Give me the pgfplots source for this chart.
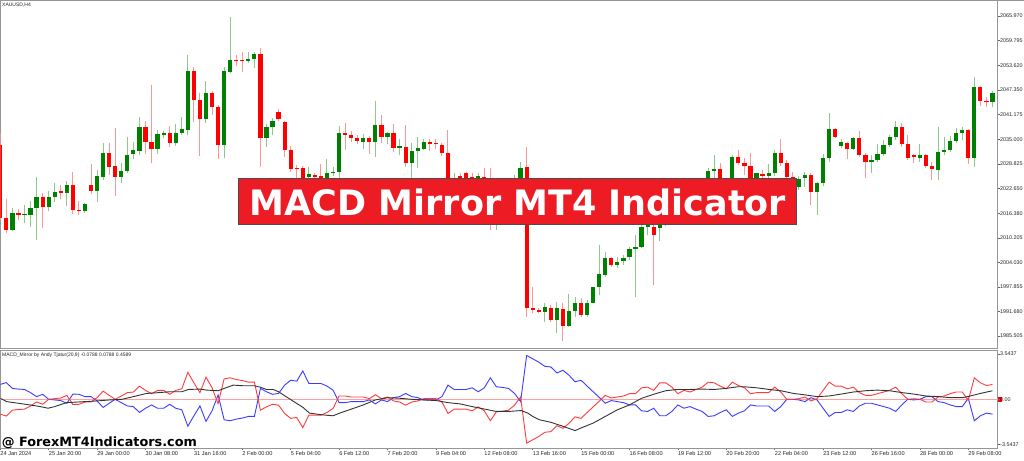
\documentclass[border=0pt]{standalone}
\usepackage{pgfplots}
\pgfplotsset{compat=1.18}
\usepackage{pgfplotstable}
\usepackage{fontspec}
\setmainfont{Liberation Sans}
\newfontfamily\titlefont{DejaVu Sans}
\definecolor{bull}{RGB}{0,128,0}
\definecolor{bear}{RGB}{255,0,0}
\definecolor{bullwick}{RGB}{140,200,140}
\definecolor{bearwick}{RGB}{255,150,150}
\definecolor{framegray}{RGB}{150,150,150}
\definecolor{macdblue}{RGB}{60,60,255}
\definecolor{macdred}{RGB}{255,60,60}
\definecolor{zeroline}{RGB}{255,160,160}
\definecolor{titlered}{RGB}{237,28,36}

\pgfplotstableread{
i O H L C
0 2033.5 2036.6 2014.7 2015.2
1 2015.3 2019.9 2011.4 2012.2
2 2012.2 2017.6 2011.8 2016.4
3 2016.4 2017.4 2014.7 2016.0
4 2015.9 2018.5 2013.9 2016.1
5 2016.0 2019.5 2012.9 2017.6
6 2017.6 2025.4 2009.7 2020.4
7 2020.4 2021.6 2012.6 2017.9
8 2017.9 2022.1 2017.0 2020.4
9 2020.5 2024.1 2019.3 2021.8
10 2021.8 2023.5 2019.9 2021.6
11 2021.4 2024.6 2018.2 2023.5
12 2023.5 2026.8 2016.2 2017.2
13 2017.2 2019.5 2016.0 2017.0
14 2017.0 2019.0 2016.5 2018.6
15 2023.5 2028.8 2021.2 2022.1
16 2022.1 2027.3 2019.3 2025.7
17 2025.6 2034.0 2024.7 2031.5
18 2031.5 2034.0 2026.0 2028.1
19 2028.3 2037.7 2020.7 2025.6
20 2025.6 2028.9 2024.1 2027.0
21 2027.0 2035.5 2026.4 2031.0
22 2031.2 2034.4 2030.0 2032.3
23 2032.1 2040.7 2031.0 2038.0
24 2038.0 2039.6 2031.3 2034.4
25 2034.4 2048.6 2029.1 2032.5
26 2032.5 2037.3 2031.3 2036.2
27 2036.1 2037.1 2035.2 2036.5
28 2036.5 2038.3 2033.0 2034.1
29 2034.0 2038.8 2033.3 2036.6
30 2036.6 2040.5 2036.1 2037.5
31 2037.3 2056.2 2036.1 2052.2
32 2052.2 2053.2 2039.4 2044.9
33 2044.9 2046.5 2030.8 2040.0
34 2040.0 2049.7 2039.2 2046.5
35 2046.5 2047.2 2041.1 2043.0
36 2043.0 2043.6 2030.0 2033.5
37 2033.5 2053.2 2030.2 2052.1
38 2052.0 2065.8 2051.6 2054.9
39 2054.9 2056.2 2053.4 2054.7
40 2054.9 2057.0 2052.0 2054.7
41 2054.7 2057.0 2054.1 2055.2
42 2055.1 2057.0 2052.8 2056.3
43 2056.3 2057.9 2027.9 2035.2
44 2035.2 2038.8 2033.1 2038.1
45 2038.1 2040.3 2036.1 2039.7
46 2041.9 2042.5 2039.7 2040.0
47 2039.4 2039.7 2030.5 2032.3
48 2032.3 2033.4 2026.8 2027.4
49 2027.7 2028.5 2024.2 2027.4
50 2027.7 2028.3 2023.5 2024.7
51 2025.4 2028.1 2023.5 2026.3
52 2026.0 2026.6 2024.2 2025.4
53 2025.7 2028.7 2024.2 2025.3
54 2025.2 2030.0 2024.2 2026.4
55 2026.4 2028.1 2025.7 2026.8
56 2026.7 2038.3 2025.2 2036.5
57 2036.5 2039.0 2032.3 2036.1
58 2036.1 2037.1 2034.4 2035.4
59 2035.4 2036.1 2033.9 2034.6
60 2034.4 2036.3 2032.5 2035.2
61 2035.2 2035.8 2031.3 2034.2
62 2034.2 2044.7 2030.6 2038.5
63 2038.5 2041.1 2034.1 2035.6
64 2035.6 2036.9 2033.8 2036.5
65 2036.5 2038.8 2031.9 2032.9
66 2032.9 2035.0 2031.0 2033.1
67 2033.0 2038.6 2028.1 2029.1
68 2029.1 2034.1 2024.7 2032.1
69 2032.0 2035.5 2027.7 2032.7
70 2032.6 2035.0 2032.3 2034.4
71 2034.4 2035.0 2032.1 2033.7
72 2034.0 2035.0 2032.5 2033.7
73 2033.5 2034.1 2030.8 2031.6
74 2031.6 2037.3 2024.2 2025.3
75 2023.2 2026.6 2022.2 2025.0
76 2025.7 2026.6 2023.5 2024.5
77 2026.4 2026.8 2023.5 2025.2
78 2025.6 2026.6 2023.7 2025.2
79 2025.2 2026.6 2024.0 2025.7
80 2025.6 2027.7 2023.2 2025.2
81 2025.3 2027.7 2012.2 2016.0
82 2014.2 2019.7 2012.2 2018.5
83 2018.5 2020.2 2014.7 2016.7
84 2016.7 2021.0 2015.7 2019.7
85 2019.7 2026.0 2018.5 2022.2
86 2022.2 2029.3 2021.0 2027.8
87 2027.9 2033.1 1990.4 1992.5
88 1992.5 1997.9 1991.2 1992.1
89 1992.1 1992.6 1991.2 1991.5
90 1991.6 1993.7 1989.1 1992.9
91 1992.6 1993.3 1989.1 1989.5
92 1989.5 1994.2 1986.2 1992.5
93 1992.2 1993.7 1984.3 1988.0
94 1988.0 1996.1 1987.9 1991.8
95 1991.8 1995.4 1990.4 1993.7
96 1993.7 1995.0 1990.4 1990.7
97 1990.7 1994.6 1990.4 1993.9
98 1993.9 1997.9 1993.7 1997.8
99 1997.8 2008.4 1995.8 2001.0
100 2000.9 2006.7 2000.4 2005.1
101 2005.1 2005.3 2002.9 2003.4
102 2003.4 2005.3 2002.5 2004.2
103 2004.4 2005.9 2003.4 2005.2
104 2005.3 2008.0 2004.6 2007.4
105 2007.4 2010.9 1995.4 2008.0
106 2008.0 2013.4 2007.6 2012.9
107 2012.9 2014.7 2010.9 2013.4
108 2013.0 2014.2 1998.3 2010.9
109 2012.6 2015.2 2009.5 2013.4
110 2013.7 2017.7 2013.2 2016.7
111 2016.7 2018.5 2014.2 2015.4
112 2015.4 2019.7 2014.7 2018.7
113 2018.7 2021.7 2017.7 2020.5
114 2020.5 2022.2 2018.0 2019.0
115 2019.0 2023.2 2018.2 2022.2
116 2022.2 2025.2 2021.2 2024.2
117 2024.2 2027.7 2023.2 2027.1
118 2027.0 2031.0 2024.7 2027.4
119 2027.4 2028.9 2021.7 2022.7
120 2022.7 2023.7 2019.7 2021.0
121 2021.0 2031.0 2020.2 2030.6
122 2030.6 2032.3 2028.5 2028.9
123 2028.9 2030.2 2026.0 2028.3
124 2028.3 2031.6 2022.2 2024.7
125 2025.2 2026.6 2024.2 2026.4
126 2026.3 2027.3 2024.7 2025.8
127 2025.8 2028.8 2024.7 2026.6
128 2026.4 2032.3 2025.7 2031.5
129 2031.5 2035.0 2028.3 2028.9
130 2028.9 2029.8 2024.7 2025.6
131 2025.6 2026.8 2022.2 2023.1
132 2023.1 2025.7 2022.2 2024.9
133 2025.2 2026.8 2023.1 2026.0
134 2026.0 2026.4 2018.5 2021.8
135 2021.8 2024.3 2016.0 2023.9
136 2023.9 2031.3 2023.2 2030.2
137 2030.2 2041.5 2029.3 2037.5
138 2037.5 2037.7 2035.2 2035.6
139 2033.4 2035.0 2032.7 2034.4
140 2034.1 2034.4 2030.0 2032.5
141 2032.5 2035.5 2032.3 2035.2
142 2035.2 2037.1 2030.6 2031.0
143 2031.0 2031.5 2025.2 2029.2
144 2029.2 2031.0 2026.4 2029.8
145 2029.8 2033.8 2029.3 2031.3
146 2031.3 2034.8 2030.8 2033.5
147 2033.5 2036.1 2033.1 2035.5
148 2035.5 2039.7 2034.8 2038.1
149 2038.1 2039.2 2033.1 2033.8
150 2033.8 2036.1 2029.8 2030.4
151 2031.0 2031.3 2028.9 2030.6
152 2030.4 2033.8 2029.3 2031.0
153 2031.0 2031.3 2027.8 2028.3
154 2028.3 2029.3 2024.7 2027.4
155 2027.3 2038.1 2024.7 2031.9
156 2031.9 2035.6 2031.0 2032.3
157 2032.3 2035.9 2031.9 2034.6
158 2034.6 2037.7 2034.0 2036.6
159 2036.6 2038.1 2034.8 2037.3
160 2037.3 2037.5 2028.8 2030.4
161 2030.4 2050.7 2028.1 2048.2
162 2048.2 2048.4 2043.3 2044.7
163 2044.7 2045.5 2043.0 2044.3
164 2044.3 2047.2 2043.0 2046.7
}\ohlc

\pgfplotstableread{
i b r
0 1.16 -1.16
1 1.31 -1.31
2 0.85 -0.85
3 0.80 -0.80
4 0.77 -0.77
5 0.52 -0.52
6 0.21 -0.21
7 0.39 -0.39
8 0.00 0.00
9 -0.05 0.05
10 -0.10 0.10
11 -0.31 0.31
12 0.41 -0.41
13 0.39 -0.39
14 0.21 -0.21
15 0.21 -0.21
16 -0.13 0.13
17 -0.64 0.64
18 -0.31 0.31
19 0.00 0.00
20 -0.26 0.26
21 -0.52 0.52
22 -0.57 0.57
23 -1.03 1.03
24 -0.70 0.70
25 -0.44 0.44
26 -0.70 0.70
27 -0.70 0.70
28 -0.39 0.39
29 -0.70 0.70
30 -0.82 0.82
31 -2.11 2.11
32 -1.29 1.29
33 -0.52 0.52
34 -1.73 1.73
35 -0.90 0.90
36 0.34 -0.34
37 -1.60 1.60
38 -1.68 1.68
39 -1.55 1.55
40 -1.47 1.47
41 -1.34 1.34
42 -1.34 1.34
43 0.85 -0.85
44 0.59 -0.59
45 0.39 -0.39
46 0.46 -0.46
47 1.11 -1.11
48 1.49 -1.49
49 1.42 -1.42
50 2.22 -2.22
51 1.24 -1.24
52 1.24 -1.24
53 1.24 -1.24
54 1.03 -1.03
55 0.72 -0.72
56 -0.26 0.26
57 -0.26 0.26
58 -0.18 0.18
59 -0.18 0.18
60 -0.18 0.18
61 -0.05 0.05
62 -0.36 0.36
63 -0.05 0.05
64 -0.18 0.18
65 0.13 -0.13
66 0.21 -0.21
67 0.46 -0.46
68 0.21 -0.21
69 0.13 -0.13
70 -0.05 0.05
71 -0.05 0.05
72 -0.05 0.05
73 0.21 -0.21
74 1.11 -1.11
75 0.77 -0.77
76 0.77 -0.77
77 0.77 -0.77
78 0.90 -0.90
79 0.59 -0.59
80 0.90 -0.90
81 1.68 -1.68
82 0.98 -0.98
83 0.93 -0.93
84 0.85 -0.85
85 0.46 -0.46
86 -0.18 0.18
87 3.43 -3.43
88 3.17 -3.17
89 2.91 -2.91
90 2.58 -2.58
91 2.53 -2.53
92 2.06 -2.06
93 2.27 -2.27
94 1.88 -1.88
95 1.37 -1.37
96 1.49 -1.49
97 1.03 -1.03
98 0.59 -0.59
99 0.15 -0.15
100 -0.31 0.31
101 -0.10 0.10
102 -0.18 0.18
103 -0.26 0.26
104 -0.44 0.44
105 -0.44 0.44
106 -0.90 0.90
107 -0.95 0.95
108 -0.70 0.70
109 -1.29 1.29
110 -1.29 1.29
111 -0.95 0.95
112 -0.44 0.44
113 -0.70 0.70
114 -0.57 0.57
115 -0.77 0.77
116 -0.95 0.95
117 -1.34 1.34
118 -1.29 1.29
119 -1.03 1.03
120 -0.82 0.82
121 -1.34 1.34
122 -1.08 1.08
123 -0.90 0.90
124 -0.44 0.44
125 -0.52 0.52
126 -0.52 0.52
127 -0.52 0.52
128 -0.95 0.95
129 -0.57 0.57
130 0.00 0.00
131 0.00 0.00
132 -0.05 0.05
133 -0.18 0.18
134 0.13 -0.13
135 -0.05 0.05
136 -0.70 0.70
137 -1.34 1.34
138 -1.03 1.03
139 -1.03 1.03
140 -0.82 0.82
141 -0.95 0.95
142 -0.52 0.52
143 -0.31 0.31
144 -0.31 0.31
145 -0.44 0.44
146 -0.57 0.57
147 -0.70 0.70
148 -0.95 0.95
149 -0.44 0.44
150 0.00 0.00
151 -0.05 0.05
152 0.00 0.00
153 0.21 -0.21
154 0.21 -0.21
155 -0.18 0.18
156 -0.26 0.26
157 -0.44 0.44
158 -0.57 0.57
159 -0.57 0.57
160 0.08 -0.08
161 -1.68 1.68
162 -1.29 1.29
163 -1.08 1.08
164 -1.16 1.16
}\macd

\pgfplotstableread{
i k
0 0.08
1.05 -0.18
3.0 -0.31
4.9 -0.44
6.6 -0.57
7.9 -0.70
9.0 -0.57
10.1 -0.39
11.0 -0.26
12.1 -0.23
14.0 -0.18
15.9 -0.13
18.1 -0.05
20.1 0.0
22.0 0.21
24.2 0.46
26.1 0.52
28.0 0.59
30.0 0.59
31.1 0.77
33.0 0.80
34.1 0.72
36.0 0.67
37.0 0.85
38.5 1.11
40.2 1.06
42.0 1.06
43.1 0.93
44.0 0.77
45.1 0.77
46.0 0.59
47.0 0.28
48.1 -0.05
49.1 -0.36
50.0 -0.62
51.1 -1.08
53.1 -1.21
55.0 -1.29
56.1 -1.08
58.0 -0.77
60.0 -0.44
62.0 -0.05
64.1 0.13
66.0 0.08
68.0 0.0
70.1 -0.05
72.1 -0.10
74.0 -0.26
76.0 -0.36
78.0 -0.57
80.1 -0.77
82.0 -0.95
84.0 -0.95
86.1 -0.88
87.2 -1.08
88.0 -1.34
89.1 -1.60
91.0 -1.80
93.0 -2.11
95.0 -2.45
96.0 -2.24
98.0 -1.86
100.0 -1.34
102.0 -0.82
104.0 -0.44
106.0 0.08
108.1 0.41
110.0 0.67
111.9 0.77
114.0 0.77
116.0 0.80
118.0 0.77
119.9 0.85
121.9 0.98
123.0 0.98
125.0 0.90
127.1 0.77
129.0 0.67
131.1 0.46
133.1 0.34
135.0 0.21
137.0 0.26
139.0 0.41
141.0 0.57
143.0 0.67
145.0 0.72
147.0 0.67
149.1 0.52
151.0 0.41
153.0 0.26
155.0 0.21
157.0 0.13
159.0 0.13
159.9 0.21
162.0 0.46
164.0 0.67
}\sig

\begin{document}
\begin{tikzpicture}
\fill[white] (0,0) rectangle (1024pt,460pt);
\draw[framegray, line width=0.8pt] (0,459.6pt) -- (1024pt,459.6pt);
% red marker behind 0.00 label
\fill[red] (997.8pt,57.8pt) rectangle (1001.5pt,62.8pt);

% ===== price panel =====
\begin{axis}[
  at={(0.3pt,111pt)}, anchor=south west,
  width=997.2pt, height=348pt, scale only axis,
  xmin=0, xmax=164.83, ymin=1982.26, ymax=2069.75,
  axis line style={draw=framegray, line width=1pt},
  xtick=\empty,
  ytick={1985.505,1991.680,1997.855,2004.030,2010.205,2016.380,2022.650,2028.825,2035.000,2041.175,2047.350,2053.620,2059.795,2065.970},
  yticklabels={1985.505,1991.680,1997.855,2004.030,2010.205,2016.380,2022.650,2028.825,2035.000,2041.175,2047.350,2053.620,2059.795,2065.970},
  ytick pos=right, yticklabel pos=right,
  tick align=outside, major tick length=2pt,
  tick style={draw=black!60, line width=0.5pt},
  yticklabel style={font=\fontsize{5.4}{6}\selectfont, anchor=west, inner sep=0pt, xshift=0.5pt, text=black!85},
]
\addplot[draw=none, mark=none, forget plot,
  restrict expr to domain={\thisrow{C}-\thisrow{O}}{0:1000},
  error bars/.cd, y dir=plus, y explicit, error mark=none,
  error bar style={draw=bullwick, line width=1pt}]
  table[x=i, y=L, y error expr=\thisrow{H}-\thisrow{L}] {\ohlc};
\addplot[draw=none, mark=none, forget plot,
  restrict expr to domain={\thisrow{C}-\thisrow{O}}{-1000:-0.001},
  error bars/.cd, y dir=plus, y explicit, error mark=none,
  error bar style={draw=bearwick, line width=1pt}]
  table[x=i, y=L, y error expr=\thisrow{H}-\thisrow{L}] {\ohlc};
\addplot[draw=none, mark=none, forget plot,
  restrict expr to domain={\thisrow{C}-\thisrow{O}}{0:1000},
  error bars/.cd, y dir=plus, y explicit, error mark=none,
  error bar style={draw=bull, line width=4.2pt}]
  table[x=i, y=O, y error expr={max(\thisrow{C}-\thisrow{O},0.3)}] {\ohlc};
\addplot[draw=none, mark=none, forget plot,
  restrict expr to domain={\thisrow{C}-\thisrow{O}}{-1000:-0.001},
  error bars/.cd, y dir=plus, y explicit, error mark=none,
  error bar style={draw=bear, line width=4.2pt}]
  table[x=i, y=C, y error expr={max(\thisrow{O}-\thisrow{C},0.3)}] {\ohlc};
\end{axis}

% ===== indicator panel =====
\begin{axis}[
  at={(0.3pt,12pt)}, anchor=south west,
  width=997.2pt, height=97pt, scale only axis,
  xmin=0, xmax=164.83, ymin=-3.81, ymax=3.78,
  axis line style={draw=framegray, line width=1pt},
  xtick={0,8,...,160},
  xticklabels={24 Jan 2024,25 Jan 20:00,29 Jan 00:00,30 Jan 08:00,31 Jan 16:00,2 Feb 00:00,5 Feb 04:00,6 Feb 12:00,7 Feb 20:00,9 Feb 04:00,12 Feb 08:00,13 Feb 16:00,15 Feb 00:00,16 Feb 08:00,19 Feb 12:00,20 Feb 20:00,22 Feb 04:00,23 Feb 12:00,26 Feb 16:00,28 Feb 00:00,29 Feb 08:00},
  xtick pos=bottom,
  ytick={-3.5437,0,3.5437},
  yticklabels={-3.5437,0.00,3.5437},
  ytick pos=right, yticklabel pos=right,
  tick align=outside, major tick length=2pt,
  tick style={draw=black!60, line width=0.5pt},
  xticklabel style={font=\fontsize{5.6}{6}\selectfont, anchor=north west, inner sep=0pt, yshift=-1.2pt, text=black!85},
  yticklabel style={font=\fontsize{5.4}{6}\selectfont, anchor=west, inner sep=0pt, xshift=0.5pt, text=black!85},
]
\addplot[zeroline, line width=0.8pt, forget plot] coordinates {(0,0) (164.83,0)};
\addplot[macdblue, line width=0.9pt, mark=none] table[x=i, y=b] {\macd};
\addplot[macdred, line width=0.9pt, mark=none] table[x=i, y=r] {\macd};
\addplot[black!80, line width=0.9pt, mark=none] table[x=i, y=k] {\sig};
\end{axis}

% texts
\node[anchor=west, inner sep=0pt, font=\fontsize{5}{6}\selectfont, text=black!85] at (2pt,455pt) {XAUUSD,H4};
\node[anchor=west, inner sep=0pt, font=\fontsize{5}{6}\selectfont, text=black!85] at (2pt,105pt) {MACD\_Mirror by Andy Tjatur(20,9) -0.0788 0.0788 0.4589};

% title box
\draw[fill=titlered, draw=black!70, line width=1pt] (238.3pt,281.7pt) rectangle (796.7pt,235pt);
\node[anchor=base, inner sep=0pt, text=white, font=\titlefont\bfseries\fontsize{35}{40}\selectfont] at (518pt,244pt) {MACD Mirror MT4 Indicator};

% watermark
\node[anchor=base west, inner sep=0pt, text=black, font=\titlefont\bfseries\fontsize{12.8}{14}\selectfont] at (1.7pt,13.3pt) {@ ForexMT4Indicators.com};

\pgfresetboundingbox
\path (0,0) rectangle (1024pt,460pt);
\end{tikzpicture}
\end{document}
